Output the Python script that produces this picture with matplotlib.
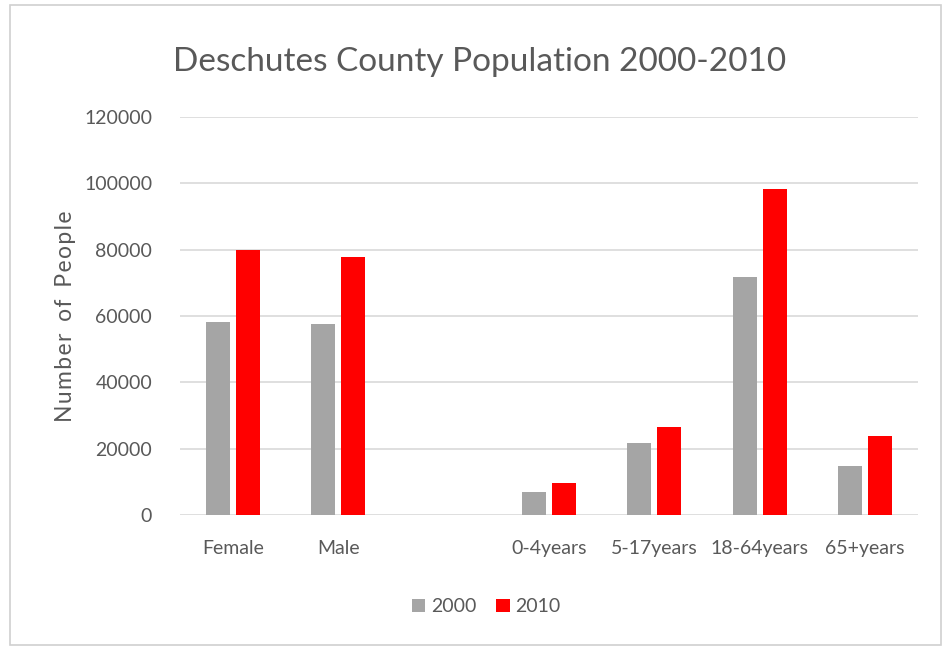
import numpy as np
import matplotlib.pyplot as plt
from matplotlib.patches import Rectangle

# Population counts by group (blank slot separates sex and age groups)
categories = ['Female', 'Male', '', '0-4years', '5-17years', '18-64years', '65+years']
pop_2000 = [58300, 57600, 0, 6850, 21600, 71700, 14900]
pop_2010 = [79900, 77900, 0, 9560, 26450, 98250, 23800]

grey = '#A5A5A5'
red = '#FF0000'
text_col = '#595959'

plt.rcParams['font.family'] = ['Lato', 'DejaVu Sans']

fig = plt.figure(figsize=(9.5, 6.5), dpi=100)
ax = fig.add_axes([0.1895, 0.2077, 0.7765, 0.6123])

x = np.arange(len(categories))
w = 0.228
off = 0.142
ax.bar(x - off, pop_2000, width=w, color=grey, label='2000', zorder=3)
ax.bar(x + off, pop_2010, width=w, color=red, label='2010', zorder=3)

ax.set_xlim(-0.5, len(categories) - 0.5)
ax.set_ylim(0, 120000)
ax.set_yticks(np.arange(0, 120001, 20000))
ax.set_xticks(x)
ax.set_xticklabels(categories)
ax.yaxis.grid(True, color='#D9D9D9', linewidth=1.2, zorder=0)
ax.tick_params(axis='both', length=0, labelsize=14, labelcolor=text_col)
ax.tick_params(axis='y', pad=20)
ax.tick_params(axis='x', pad=18)
for s in ax.spines.values():
    s.set_visible(False)

# spaced-out axis title
ylab = '  '.join('\u200a'.join(word) for word in ['Number', 'of', 'People'])
ax.set_ylabel(ylab, fontsize=16.5, color=text_col, labelpad=6)

fig.text(0.505, 0.905, 'Deschutes County Population 2000-2010',
         ha='center', va='center', fontsize=24, color=text_col)

ax.legend(loc='upper center', bbox_to_anchor=(0.415, -0.165), ncol=2, frameon=False,
          fontsize=14, labelcolor=text_col, handlelength=0.7, handleheight=0.7,
          handletextpad=0.3, columnspacing=1.0)

# light frame around the whole chart
fig.patches.append(Rectangle((0.01, 0.008), 0.98, 0.984, transform=fig.transFigure,
                             fill=False, edgecolor='#D0D0D0', linewidth=1.2))

fig.savefig('out.png', dpi=100)
